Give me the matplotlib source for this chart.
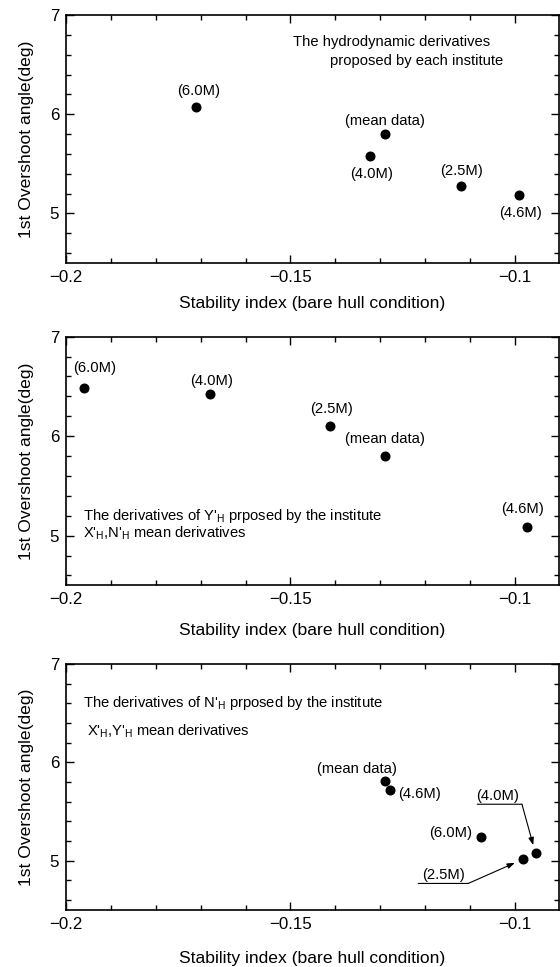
import matplotlib
matplotlib.use('Agg')
import matplotlib.pyplot as plt
from matplotlib.ticker import MultipleLocator
from matplotlib.transforms import offset_copy

plt.rcParams['font.family'] = ['Liberation Sans', 'DejaVu Sans']
plt.rcParams['mathtext.default'] = 'regular'
plt.rcParams['axes.unicode_minus'] = True

# ---------------- data ----------------
p1_labels = ['(6.0M)', '(mean data)', '(4.0M)', '(2.5M)', '(4.6M)']
p1_x = [-0.1710, -0.1289, -0.1322, -0.1121, -0.0990]
p1_y = [6.07, 5.80, 5.58, 5.28, 5.19]

p2_labels = ['(6.0M)', '(4.0M)', '(2.5M)', '(mean data)', '(4.6M)']
p2_x = [-0.1959, -0.1679, -0.1411, -0.1289, -0.0974]
p2_y = [6.48, 6.42, 6.10, 5.80, 5.09]

p3_labels = ['(mean data)', '(4.6M)', '(6.0M)', '(2.5M)', '(4.0M)']
p3_x = [-0.1289, -0.1278, -0.1076, -0.0983, -0.0954]
p3_y = [5.81, 5.72, 5.24, 5.02, 5.08]

xtick_vals = [-0.2, -0.15, -0.1]
xtick_labels = ['\u22120.2', '\u22120.15', '\u22120.1']
ytick_vals = [5, 6, 7]
ytick_labels = ['5', '6', '7']

xlabel = 'Stability index (bare hull condition)'
ylabel = '1st Overshoot angle(deg)'

p1_text = ['The hydrodynamic derivatives', 'proposed by each institute']
p2_text = ["The derivatives of Y'$_{H}$ prposed by the institute",
           "X'$_{H}$,N'$_{H}$ mean derivatives"]
p3_text = ["The derivatives of N'$_{H}$ prposed by the institute",
           "X'$_{H}$,Y'$_{H}$ mean derivatives"]

# ---------------- layout ----------------
W, H = 560, 967
fig = plt.figure(figsize=(W / 100, H / 100), dpi=100)

def rect(top, bottom, left=66, right=559):
    return [left / W, 1 - bottom / H, (right - left) / W, (bottom - top) / H]

rects = [rect(15, 263), rect(336.7, 585.4), rect(664, 910)]
xlab_y = [-0.134, -0.150, -0.168]

PX = 0.72  # pixels -> points

def make_axes(r, xl_y):
    ax = fig.add_axes(r)
    ax.set_xlim(-0.2, -0.0902)
    ax.set_ylim(4.5, 7.0)
    ax.set_xticks(xtick_vals, xtick_labels)
    ax.set_yticks(ytick_vals, ytick_labels)
    ax.xaxis.set_minor_locator(MultipleLocator(0.01))
    ax.yaxis.set_minor_locator(MultipleLocator(0.2))
    ax.tick_params(which='both', direction='in', top=True, right=True,
                   width=1.0, labelsize=12.2, pad=5)
    ax.tick_params(which='major', length=6)
    ax.tick_params(which='minor', length=3.8)
    for s in ax.spines.values():
        s.set_linewidth(1.2)
    ax.set_xlabel(xlabel, fontsize=12.6)
    ax.set_ylabel(ylabel, fontsize=12.6)
    ax.xaxis.set_label_coords(0.5, xl_y)
    ax.yaxis.set_label_coords(-0.064, 0.5)
    return ax

def label(ax, x, y, s, dx, dy):
    ax.annotate(s, xy=(x, y), xytext=(dx * PX, dy * PX), textcoords='offset points',
                ha='center', va='center', fontsize=10.6)

def seg(ax, x, y, p0, p1, arrow):
    tr = offset_copy(ax.transData, fig=fig, x=p1[0] * PX, y=p1[1] * PX, units='points')
    style = '-|>,head_length=0.45,head_width=0.16' if arrow else '-'
    ax.annotate('', xy=(x, y), xycoords=tr,
                xytext=((p0[0] - p1[0]) * PX, (p0[1] - p1[1]) * PX),
                textcoords='offset points',
                arrowprops=dict(arrowstyle=style, color='black', lw=0.8,
                                shrinkA=0, shrinkB=0, mutation_scale=10))

MS = 6.2

# ---- panel 1 ----
ax1 = make_axes(rects[0], xlab_y[0])
ax1.plot(p1_x, p1_y, 'o', color='black', ms=MS, ls='none')
off1 = [(2, 16), (0, 13), (1.5, -17.7), (0.7, 14.3), (1, -18.4)]
for x, y, s, (dx, dy) in zip(p1_x, p1_y, p1_labels, off1):
    label(ax1, x, y, s, dx, dy)
ax1.text(0.460, 0.891, p1_text[0], transform=ax1.transAxes, ha='left', va='center', fontsize=10.6)
ax1.text(0.536, 0.815, p1_text[1], transform=ax1.transAxes, ha='left', va='center', fontsize=10.6)

# ---- panel 2 ----
ax2 = make_axes(rects[1], xlab_y[1])
ax2.plot(p2_x, p2_y, 'o', color='black', ms=MS, ls='none')
off2 = [(10, 20), (1, 13.3), (1, 17), (0, 16.7), (-4, 17.7)]
for x, y, s, (dx, dy) in zip(p2_x, p2_y, p2_labels, off2):
    label(ax2, x, y, s, dx, dy)
ax2.text(0.034, 0.280, p2_text[0], transform=ax2.transAxes, ha='left', va='center', fontsize=10.6)
ax2.text(0.034, 0.209, p2_text[1], transform=ax2.transAxes, ha='left', va='center', fontsize=10.6)

# ---- panel 3 ----
ax3 = make_axes(rects[2], xlab_y[2])
ax3.plot(p3_x, p3_y, 'o', color='black', ms=MS, ls='none')
off3 = [(-28, 12), (29, -4.3), (-30.2, 4.4), (-78.7, -16.3), (-38.4, 57)]
for x, y, s, (dx, dy) in zip(p3_x, p3_y, p3_labels, off3):
    label(ax3, x, y, s, dx, dy)
# leader lines for (2.5M) and (4.0M)
seg(ax3, p3_x[3], p3_y[3], (-104.4, -24.6), (-54.4, -24.6), False)
seg(ax3, p3_x[3], p3_y[3], (-54.4, -24.6), (-7.7, -4.0), True)
seg(ax3, p3_x[4], p3_y[4], (-58.4, 48.7), (-13.7, 48.7), False)
seg(ax3, p3_x[4], p3_y[4], (-13.7, 48.7), (-2.4, 7.7), True)
ax3.text(0.035, 0.840, p3_text[0], transform=ax3.transAxes, ha='left', va='center', fontsize=10.6)
ax3.text(0.042, 0.725, p3_text[1], transform=ax3.transAxes, ha='left', va='center', fontsize=10.6)

fig.savefig('out.png', dpi=100)
